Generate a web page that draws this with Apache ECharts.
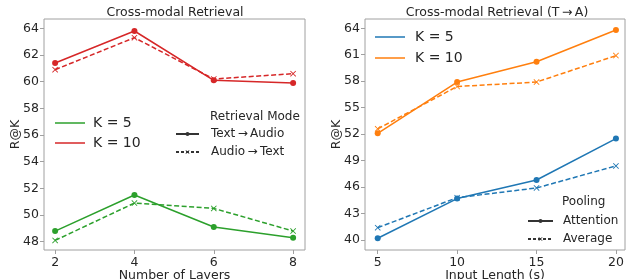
<!DOCTYPE html>
<html>
<head>
<meta charset="utf-8">
<script src="https://cdn.jsdelivr.net/npm/echarts@6/dist/echarts.min.js"></script>
<style>
  html, body { margin: 0; padding: 0; background: #fff; }
  #chart { width: 627px; height: 279px; }
</style>
</head>
<body>
<div id="chart"></div>
<script>
// left panel: number of layers
const layers = [2, 4, 6, 8];
const layerTicks = [2, 4, 6, 8];
const leftYTicks = [48, 50, 52, 54, 56, 58, 60, 62, 64];
const k10TextAudio = [61.4, 63.8, 60.1, 59.9];
const k10AudioText = [60.9, 63.3, 60.2, 60.6];
const k5TextAudio = [48.8, 51.5, 49.1, 48.3];
const k5AudioText = [48.1, 50.9, 50.5, 48.8];

// right panel: input length
const lengths = [5, 10, 15, 20];
const lengthTicks = [5, 10, 15, 20];
const rightYTicks = [40, 43, 46, 49, 52, 55, 58, 61, 64];
const k10Attention = [52.1, 57.9, 60.2, 63.8];
const k10Average = [52.6, 57.4, 57.9, 60.9];
const k5Attention = [40.2, 44.7, 46.8, 51.5];
const k5Average = [41.4, 44.8, 45.9, 48.4];

const FONT = 'DejaVu Sans';
const TXT = '#262626';
const FRAME = '#a0a0a0';
const xMark = 'path://M1,0 L5,4 L9,0 L10,1 L6,5 L10,9 L9,10 L5,6 L1,10 L0,9 L4,5 L0,1 Z';

const legendNames = {
  k5L: 'K = 5', k10L: 'K = 10',
  ta: 'Text\u2009→\u2009Audio', at: 'Audio\u2009→\u2009Text',
  k5R: 'K = 5', k10R: 'K = 10',
  att: 'Attention', avg: 'Average'
};

function pairs(xs, ys) {
  return xs.map((x, i) => [x, ys[i]]);
}

function dataSeries(name, xs, ys, color, dashed, idx) {
  return {
    name: name,
    type: 'line',
    xAxisIndex: idx,
    yAxisIndex: idx,
    data: pairs(xs, ys),
    symbol: dashed ? xMark : 'circle',
    symbolSize: 6,
    itemStyle: { color: color },
    lineStyle: { color: color, width: 1.5, type: dashed ? [5, 2.5] : 'solid' },
    z: dashed ? 2 : 3
  };
}

function dummy(name, color, symbol, dashed) {
  return {
    name: name,
    type: 'line',
    xAxisIndex: 0,
    yAxisIndex: 0,
    data: [],
    symbol: symbol,
    itemStyle: { color: color },
    lineStyle: { color: color, width: 1, type: dashed ? [3, 2] : 'solid' }
  };
}

function xAxis(idx, min, max, ticks, name) {
  return {
    type: 'value',
    gridIndex: idx,
    min: min,
    max: max,
    name: name,
    nameLocation: 'middle',
    nameGap: 19,
    nameMoveOverlap: false,
    nameTextStyle: { fontFamily: FONT, fontSize: 12.5, color: TXT },
    axisLine: { show: false },
    axisTick: { show: true, length: 4, lineStyle: { color: FRAME }, customValues: ticks },
    axisLabel: { fontFamily: FONT, fontSize: 12.5, color: TXT, margin: 6, customValues: ticks },
    splitLine: { show: false }
  };
}

function yAxis(idx, min, max, ticks) {
  return {
    type: 'value',
    gridIndex: idx,
    min: min,
    max: max,
    name: 'R@K',
    nameLocation: 'middle',
    nameGap: 22,
    nameMoveOverlap: false,
    nameTextStyle: { fontFamily: FONT, fontSize: 12.5, color: TXT },
    axisLine: { show: false },
    axisTick: { show: true, length: 4, lineStyle: { color: FRAME }, customValues: ticks },
    axisLabel: { fontFamily: FONT, fontSize: 12.5, color: TXT, margin: 5, customValues: ticks },
    splitLine: { show: false }
  };
}

function legend(names, left, top, itemWidth, itemHeight, gap, pad, size, icon) {
  return {
    orient: 'vertical',
    left: left,
    top: top,
    padding: 0,
    itemWidth: itemWidth,
    itemHeight: itemHeight,
    itemGap: gap,
    selectedMode: false,
    icon: icon,
    data: names,
    formatter: n => legendNames[n],
    textStyle: { fontFamily: FONT, fontSize: size, color: TXT, padding: [0, 0, 0, pad] }
  };
}

const chart = echarts.init(document.getElementById('chart'), null, { renderer: 'canvas' });

chart.setOption({
  animation: false,
  grid: [
    { left: 44, top: 19, width: 261, height: 231, show: true, borderColor: FRAME, borderWidth: 1, outerBoundsMode: 'none' },
    { left: 365, top: 19, width: 260, height: 231, show: true, borderColor: FRAME, borderWidth: 1, outerBoundsMode: 'none' }
  ],
  xAxis: [
    xAxis(0, 1.72, 8.3, layerTicks, 'Number of Layers'),
    xAxis(1, 4.2, 20.57, lengthTicks, 'Input Length (s)')
  ],
  yAxis: [
    yAxis(0, 47.38, 64.7, leftYTicks),
    yAxis(1, 38.87, 65.05, rightYTicks)
  ],
  legend: [
    legend(['k5L', 'k10L'], 55, 116, 30, 1.5, 6, 3, 14, 'rect'),
    legend(['ta', 'at'], 175, 128, 23, 5, 6, 7, 12),
    legend(['k5R', 'k10R'], 375, 30, 30, 1.5, 7, 5, 14, 'rect'),
    legend(['att', 'avg'], 527, 215, 25, 5, 6, 5, 12)
  ],
  graphic: [
    { type: 'text', x: 175, y: 13, style: { text: 'Cross-modal Retrieval', fontFamily: FONT, fontSize: 12.5, fill: TXT, align: 'center', verticalAlign: 'middle' } },
    { type: 'text', x: 497, y: 13, style: { text: 'Cross-modal Retrieval (T\u2009→\u2009A)', fontFamily: FONT, fontSize: 12.5, fill: TXT, align: 'center', verticalAlign: 'middle' } },
    { type: 'text', x: 210, y: 117, style: { text: 'Retrieval Mode', fontFamily: FONT, fontSize: 12, fill: TXT, align: 'left', verticalAlign: 'middle' } },
    { type: 'text', x: 562, y: 202, style: { text: 'Pooling', fontFamily: FONT, fontSize: 12, fill: TXT, align: 'left', verticalAlign: 'middle' } }
  ],
  series: [
    dataSeries('l10ta', layers, k10TextAudio, '#d62728', false, 0),
    dataSeries('l10at', layers, k10AudioText, '#d62728', true, 0),
    dataSeries('l5ta', layers, k5TextAudio, '#2ca02c', false, 0),
    dataSeries('l5at', layers, k5AudioText, '#2ca02c', true, 0),
    dataSeries('r10att', lengths, k10Attention, '#ff7f0e', false, 1),
    dataSeries('r10avg', lengths, k10Average, '#ff7f0e', true, 1),
    dataSeries('r5att', lengths, k5Attention, '#1f77b4', false, 1),
    dataSeries('r5avg', lengths, k5Average, '#1f77b4', true, 1),
    dummy('k5L', '#2ca02c', 'none', false),
    dummy('k10L', '#d62728', 'none', false),
    dummy('ta', '#333', 'circle', false),
    dummy('at', '#333', xMark, true),
    dummy('k5R', '#1f77b4', 'none', false),
    dummy('k10R', '#ff7f0e', 'none', false),
    dummy('att', '#333', 'circle', false),
    dummy('avg', '#333', xMark, true)
  ]
});
</script>
</body>
</html>
